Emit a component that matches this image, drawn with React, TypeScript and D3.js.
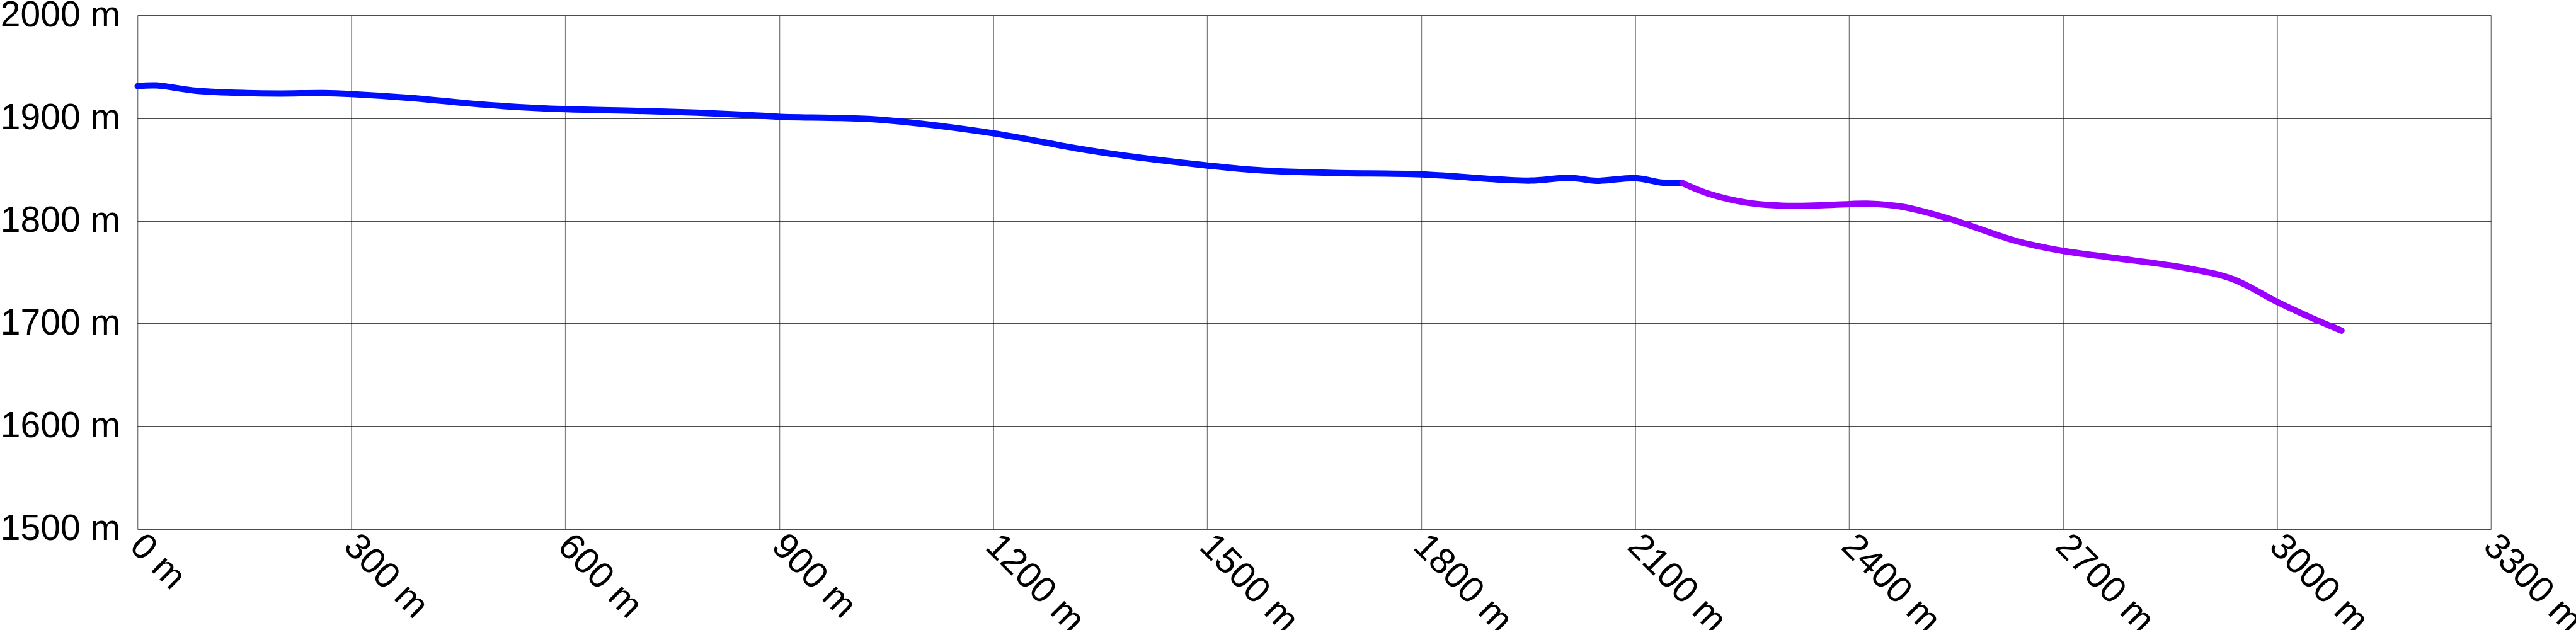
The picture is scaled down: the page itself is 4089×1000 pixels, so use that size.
import React from "react";
import * as d3 from "d3";

const xTicks = [0, 300, 600, 900, 1200, 1500, 1800, 2100, 2400, 2700, 3000, 3300];
const yTicks = [1500, 1600, 1700, 1800, 1900, 2000];

const blueDist = [0, 26, 82, 153, 200, 261, 300, 386, 457, 514, 601, 700, 784, 852, 901, 987, 1044, 1200, 1314, 1382, 1500, 1574, 1675, 1800, 1912, 1954, 2008, 2046, 2100, 2139, 2166];
const blueElev = [1931.5, 1932.2, 1927, 1924.7, 1924.3, 1924.7, 1923.7, 1919.8, 1915.1, 1912, 1909, 1907.4, 1905.7, 1903.5, 1901.6, 1900.4, 1898.6, 1885.5, 1871.2, 1864, 1854.2, 1849.5, 1847, 1845.6, 1840.5, 1839.5, 1842.2, 1839.3, 1841.9, 1837.4, 1837];

const purpleDist = [2166, 2205, 2256, 2306, 2357, 2400, 2425, 2476, 2543, 2634, 2700, 2769, 2870, 2938, 3000, 3039, 3090];
const purpleElev = [1837, 1826.2, 1818, 1815, 1815.3, 1816.6, 1817, 1813.8, 1801.7, 1780.7, 1771, 1764.4, 1754.6, 1743.4, 1721.3, 1708.6, 1693.3];

const W = 4089;
const H = 1000;
const FONT = "'Liberation Sans', Arial, sans-serif";

export default function App() {
  const x = d3.scaleLinear().domain([0, 3300]).range([218.5, 3954.5]);
  const y = d3.scaleLinear().domain([1500, 2000]).range([840, 25]);

  const line = d3
    .line<[number, number]>()
    .x((d) => x(d[0]))
    .y((d) => y(d[1]))
    .curve(d3.curveCatmullRom.alpha(0.5));

  const blue = blueDist.map((d, i) => [d, blueElev[i]] as [number, number]);
  const purple = purpleDist.map((d, i) => [d, purpleElev[i]] as [number, number]);

  return (
    <svg
      width={W}
      height={H}
      style={{ position: "absolute", left: 0, top: 0, background: "#fff" }}
    >
      <rect x={0} y={0} width={W} height={H} fill="#fff" />
      {xTicks.map((t) => (
        <line
          key={"vx" + t}
          x1={x(t)}
          x2={x(t)}
          y1={y(2000)}
          y2={y(1500)}
          stroke="#808080"
          strokeWidth={1.8}
        />
      ))}
      {yTicks.map((t) => (
        <line
          key={"hy" + t}
          x1={x(0)}
          x2={x(3300)}
          y1={y(t)}
          y2={y(t)}
          stroke="#111"
          strokeWidth={1.6}
        />
      ))}
      {yTicks.map((t) => (
        <text
          key={"yl" + t}
          x={191}
          y={y(t) + 17}
          textAnchor="end"
          fontFamily={FONT}
          fontSize={57}
          fill="#000"
        >
          {t} m
        </text>
      ))}
      {xTicks.map((t) => (
        <text
          key={"xl" + t}
          transform={`translate(${x(t) - 15},${870}) rotate(45)`}
          textAnchor="start"
          fontFamily={FONT}
          fontSize={58}
          fill="#000"
        >
          {t} m
        </text>
      ))}
      <path
        d={line(blue) || ""}
        fill="none"
        stroke="#0010ff"
        strokeWidth={10}
        strokeLinecap="round"
        strokeLinejoin="round"
      />
      <path
        d={line(purple) || ""}
        fill="none"
        stroke="#9900ff"
        strokeWidth={10}
        strokeLinecap="round"
        strokeLinejoin="round"
      />
    </svg>
  );
}
